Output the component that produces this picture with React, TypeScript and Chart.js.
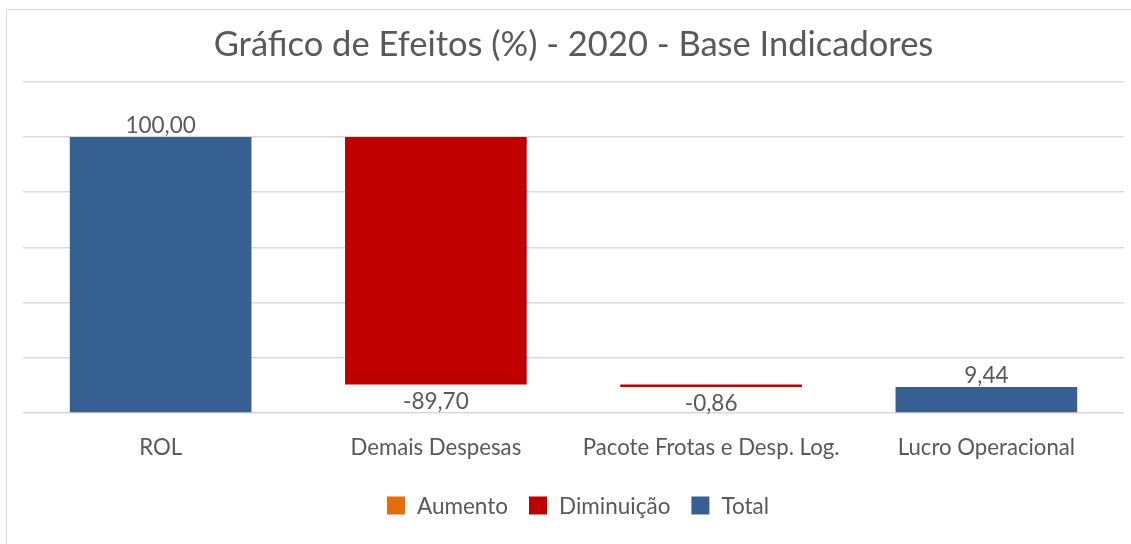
import React, { useEffect, useRef } from 'react';
import { Chart, registerables } from 'chart.js';

Chart.register(...registerables);

const chartTitle = 'Gráfico de Efeitos (%) - 2020 - Base Indicadores';
const categories = ['ROL', 'Demais Despesas', 'Pacote Frotas e Desp. Log.', 'Lucro Operacional'];
const effects = [100, -89.7, -0.86, 9.44];
const kinds = ['total', 'decrease', 'decrease', 'total'];
const seriesNames = ['Aumento', 'Diminuição', 'Total'];
const seriesKinds = ['increase', 'decrease', 'total'];
const yTicks = [0, 20, 40, 60, 80, 100, 120];

const COLORS: Record<string, string> = {
  increase: '#E46C0A',
  decrease: '#C00000',
  total: '#376092',
};
const TEXT = '#595959';
const GRID = '#D9D9D9';
const FONT = 'Lato, "Open Sans", sans-serif';

function buildRanges(): [number, number][] {
  const out: [number, number][] = [];
  let running = 0;
  effects.forEach((v, i) => {
    if (kinds[i] === 'total') {
      out.push([0, v]);
      running = v;
    } else {
      const end = running + v;
      out.push(v < 0 ? [end, running] : [running, end]);
      running = end;
    }
  });
  return out;
}

const fmt = (v: number) => v.toFixed(2).replace('.', ',');

const dataLabelPlugin = {
  id: 'dataLabels',
  afterDatasetsDraw(chart: any) {
    const ctx = chart.ctx;
    ctx.save();
    ctx.font = `22.5px ${FONT}`;
    ctx.fillStyle = TEXT;
    ctx.textAlign = 'center';
    ctx.textBaseline = 'alphabetic';
    chart.data.datasets.forEach((ds: any, d: number) => {
      const meta = chart.getDatasetMeta(d);
      meta.data.forEach((el: any, i: number) => {
        if (ds.data[i] == null) return;
        const v = effects[i];
        const { x, y, base } = el.getProps(['x', 'y', 'base'], true);
        const top = Math.min(y, base);
        const bottom = Math.max(y, base);
        if (v >= 0) ctx.fillText(fmt(v), x, top - 4);
        else ctx.fillText(fmt(v), x, bottom + 24);
      });
    });
    ctx.restore();
  },
};

const customLegendPlugin = {
  id: 'customLegend',
  afterDraw(chart: any) {
    const ctx = chart.ctx;
    ctx.save();
    ctx.font = `22.5px ${FONT}`;
    const box = 18;
    const gapText = 12;
    const gapItem = 21;
    const widths = seriesNames.map((n) => ctx.measureText(n).width);
    const total = widths.reduce((a, w) => a + box + gapText + w, 0) + gapItem * (seriesNames.length - 1);
    const center = (chart.chartArea.left + chart.chartArea.right) / 2 + 4.5;
    let x = center - total / 2;
    const cy = 505.5;
    seriesNames.forEach((n, i) => {
      ctx.fillStyle = COLORS[seriesKinds[i]];
      ctx.fillRect(x, cy - box / 2, box, box);
      x += box + gapText;
      ctx.fillStyle = TEXT;
      ctx.textAlign = 'left';
      ctx.textBaseline = 'alphabetic';
      ctx.fillText(n, x, cy + 8);
      x += widths[i] + gapItem;
    });
    ctx.restore();
  },
};

export default function App() {
  const ref = useRef<HTMLCanvasElement>(null);

  useEffect(() => {
    if (!ref.current) return;
    const ranges = buildRanges();
    const datasets = seriesKinds.map((k, s) => ({
      label: seriesNames[s],
      data: ranges.map((r, i) => (kinds[i] === k ? r : null)),
      backgroundColor: COLORS[k],
      borderWidth: 0,
      barPercentage: 0.66,
      categoryPercentage: 1,
    }));
    const chart = new Chart(ref.current, {
      type: 'bar',
      data: { labels: categories, datasets: datasets as any },
      plugins: [dataLabelPlugin, customLegendPlugin],
      options: {
        animation: false,
        responsive: false,
        layout: { padding: { left: 23, right: 7, top: 0, bottom: 82 } },
        plugins: {
          legend: { display: false },
          tooltip: { enabled: false },
          title: {
            display: true,
            text: chartTitle,
            color: TEXT,
            font: { family: FONT, size: 34.5, weight: 'normal' },
            padding: { top: 24.3, bottom: 16 },
          },
        },
        scales: {
          x: {
            stacked: true,
            grid: { display: false, drawTicks: false },
            border: { display: false },
            ticks: {
              color: TEXT,
              font: { family: FONT, size: 22.2 },
              padding: 22,
              maxRotation: 0,
              autoSkip: false,
            },
            afterFit: (scale: any) => {
              scale.height = 49;
            },
          },
          y: {
            stacked: false,
            min: yTicks[0],
            max: yTicks[yTicks.length - 1],
            afterBuildTicks: (scale: any) => {
              scale.ticks = yTicks.map((v) => ({ value: v }));
            },
            grid: { color: GRID, lineWidth: 1.5, drawTicks: false },
            border: { display: false },
            ticks: { display: false },
          },
        },
      },
    });
    return () => chart.destroy();
  }, []);

  return (
    <div
      style={{
        position: 'absolute',
        left: 0,
        top: 0,
        width: 1131,
        height: 544,
        overflow: 'hidden',
        background: '#fff',
      }}
    >
      <div
        style={{
          position: 'absolute',
          left: 6,
          top: 9,
          width: 1200,
          height: 600,
          border: `1px solid ${GRID}`,
          boxSizing: 'border-box',
        }}
      />
      <canvas ref={ref} width={1131} height={544} style={{ position: 'relative', display: 'block' }} />
    </div>
  );
}
